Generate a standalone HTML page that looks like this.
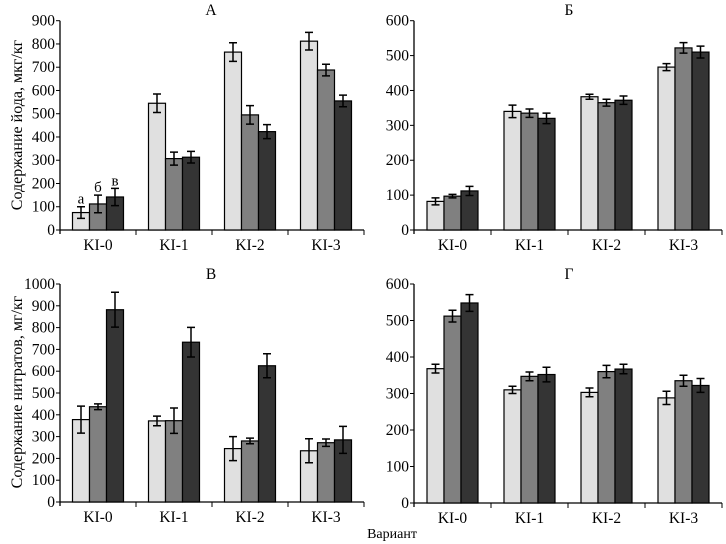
<!DOCTYPE html>
<html><head><meta charset="utf-8"><style>
body{margin:0;background:#fff}
svg{display:block;font-family:"Liberation Serif",serif}
</style></head><body>
<svg id="c" width="726" height="544" viewBox="0 0 726 544"></svg>
<script>
const categories=["KI-0","KI-1","KI-2","KI-3"];
const aVals=[[75,112,142],[545,307,313],[765,495,423],[812,688,555]];
const aErr=[[25,38,37],[40,28,25],[40,40,30],[38,25,25]];
const bVals=[[82,97,112],[340,335,320],[382,365,372],[467,522,510]];
const bErr=[[10,5,13],[18,12,15],[7,10,12],[10,15,17]];
const cVals=[[378,437,882],[372,373,733],[245,280,625],[235,272,285]];
const cErr=[[62,13,80],[22,58,68],[55,13,55],[55,17,62]];
const dVals=[[368,512,548],[310,347,352],[303,360,367],[288,335,322]];
const dErr=[[12,16,23],[10,12,20],[12,17,13],[18,15,19]];
const aTicks=[0,100,200,300,400,500,600,700,800,900];
const bTicks=[0,100,200,300,400,500,600];
const cTicks=[0,100,200,300,400,500,600,700,800,900,1000];
const dTicks=[0,100,200,300,400,500,600];
const fills=["#e0e0e0","#808080","#343434"];
const NS="http://www.w3.org/2000/svg";
const svg=document.getElementById('c');
function mk(tag,attrs,parent){const e=document.createElementNS(NS,tag);for(const k in attrs)e.setAttribute(k,attrs[k]);(parent||svg).appendChild(e);return e;}
function panel(name,x0,y0,yTop,xEnd,max,ticks,vals,errs,title,titleX,titleY,letters){
  const g=mk('g',{});
  
  
  const ys=v=>y0-(v/max)*(y0-yTop);
  const gw=(xEnd-x0)/categories.length;
  const bw=17;
  const ax=mk('line',{x1:x0,y1:yTop,x2:x0,y2:y0+4,stroke:'#000','stroke-width':1.3},g);
  
  const xa=mk('line',{x1:x0,y1:y0,x2:xEnd,y2:y0,stroke:'#000','stroke-width':1.3},g);
  
  ticks.forEach(t=>{
    mk('line',{x1:x0-4,y1:ys(t),x2:x0,y2:ys(t),stroke:'#000'},g);
    const tl=mk('text',{x:x0-5,y:ys(t)+5,'text-anchor':'end','font-size':15.5},g);
    
    tl.textContent=t;
  });
  categories.forEach((c,i)=>{
    const gx=x0+gw*i;
    mk('line',{x1:gx+gw,y1:y0,x2:gx+gw,y2:y0+5,stroke:'#000'},g);
    const cx=gx+gw/2;
    const tl=mk('text',{x:cx,y:y0+20,'text-anchor':'middle','font-size':15.5},g);
    
    tl.textContent=c;
    vals[i].forEach((v,j)=>{
      const bx=cx-1.5*bw+j*bw;
      const r=mk('rect',{x:bx,y:ys(v),width:bw,height:y0-ys(v),fill:fills[j],stroke:'#000','stroke-width':1.2},g);
      
      
      const mx=bx+bw/2,e=errs[i][j];
      const eb=mk('path',{d:`M${mx},${ys(v+e)}V${ys(v-e)}M${mx-4},${ys(v+e)}H${mx+4}M${mx-4},${ys(v-e)}H${mx+4}`,stroke:'#000','stroke-width':1.5,fill:'none'},g);
      
      if(letters&&i===0){
        const lt=mk('text',{x:mx,y:ys(v+e)-3,'text-anchor':'middle','font-size':15},g);
        
        lt.textContent=letters[j];
      }
    });
  });
  const tt=mk('text',{x:titleX,y:titleY,'text-anchor':'middle','font-size':15.5},g);
  
  tt.textContent=title;
}
panel('panel-a',60,230,20.7,364,900,aTicks,aVals,aErr,'А',211,15,['а','б','в']);
panel('panel-b',414,230,20.7,722,600,bTicks,bVals,bErr,'Б',569,15,null);
panel('panel-c',60,502,284,364,1000,cTicks,cVals,cErr,'В',211,279,null);
panel('panel-d',414,503,284,722,600,dTicks,dVals,dErr,'Г',569,279,null);
const y1=mk('text',{x:0,y:0,'text-anchor':'middle','font-size':16,transform:'translate(22,125) rotate(-90)'});

y1.textContent='Содержание йода, мкг/кг';
const y2=mk('text',{x:0,y:0,'text-anchor':'middle','font-size':16,transform:'translate(22,392) rotate(-90)'});

y2.textContent='Содержание нитратов, мг/кг';
const xt=mk('text',{x:392,y:538,'text-anchor':'middle','font-size':14});

xt.textContent='Вариант';
</script>
</body></html>
